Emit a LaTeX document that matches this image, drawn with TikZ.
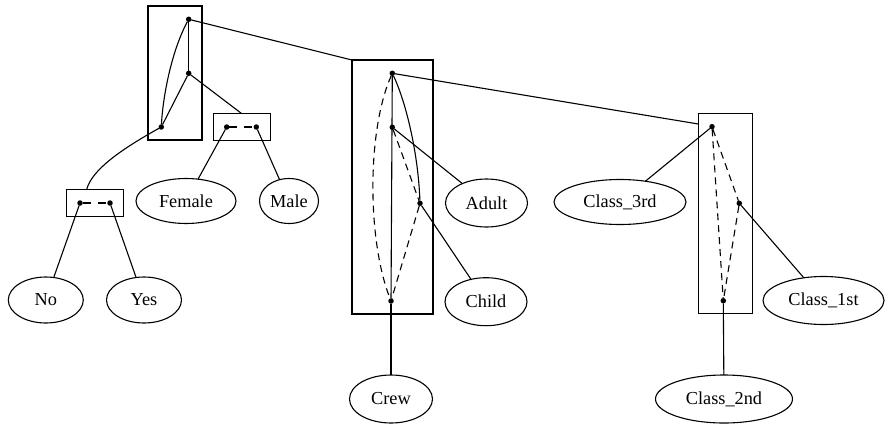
\documentclass[tikz,border=0pt]{standalone}
\usepackage{fontspec}
\setmainfont{Liberation Serif}
\usetikzlibrary{shapes.geometric}
\begin{document}
\begin{tikzpicture}[x=1pt,y=-1pt,
  every node/.style={inner sep=0pt, outer sep=0pt},
  dotn/.style={circle, fill=black, minimum size=5.5pt},
  boxn/.style={draw, rectangle, line width=1.1pt},
  elln/.style={draw, ellipse, line width=1.1pt, font=\fontsize{18.3}{21}\selectfont},
  edgeln/.style={line width=1.1pt},
  dedge/.style={line width=1.1pt, dash pattern=on 7pt off 5pt},
  sdedge/.style={line width=1.1pt, dash pattern=on 8pt off 7pt}]
\useasboundingbox (0,0) rectangle (886,426);

% boxes
\node[boxn, minimum width=54pt, minimum height=134pt] (b1) at (175,73) {};
\node[boxn, minimum width=81pt, minimum height=254pt] (b2) at (392.5,187) {};
\node[boxn, minimum width=57pt, minimum height=26.6pt] (b3) at (241.8,127) {};
\node[boxn, minimum width=57.3pt, minimum height=26.7pt] (b4) at (94.7,202.7) {};
\node[boxn, minimum width=54pt, minimum height=200pt] (b5) at (725.3,213.3) {};

% dots
\node[dotn] (d1a) at (188.7,19.3) {};
\node[dotn] (d1b) at (188.7,73.3) {};
\node[dotn] (d1c) at (161.3,127) {};
\node[dotn] (d3a) at (226.7,127) {};
\node[dotn] (d3b) at (256.3,127) {};
\node[dotn] (d4a) at (80,203) {};
\node[dotn] (d4b) at (110,203) {};
\node[dotn] (d2a) at (392.3,73.3) {};
\node[dotn] (d2b) at (392.3,127.3) {};
\node[dotn] (d2c) at (420,203.3) {};
\node[dotn] (d2d) at (391,301) {};
\node[dotn] (d5a) at (712,126.7) {};
\node[dotn] (d5b) at (739.3,203.3) {};
\node[dotn] (d5c) at (723.3,300.7) {};

% ellipses
\node[elln, minimum width=100pt, minimum height=45pt] (female) at (186,201) {Female};
\node[elln, minimum width=59pt, minimum height=45pt] (male) at (289,201) {Male};
\node[elln, minimum width=75pt, minimum height=46pt] (no) at (45.8,300) {No};
\node[elln, minimum width=75pt, minimum height=46pt] (yes) at (144,300) {Yes};
\node[elln, minimum width=82pt, minimum height=48pt] (adult) at (486.5,203) {Adult};
\node[elln, minimum width=82pt, minimum height=48pt] (child) at (486,301.7) {Child};
\node[elln, minimum width=83pt, minimum height=48pt] (crew) at (391,399) {Crew};
\node[elln, minimum width=132pt, minimum height=45pt] (c3) at (620,202) {Class\_3rd};
\node[elln, minimum width=121pt, minimum height=48pt] (c1) at (823.5,300.5) {Class\_1st};
\node[elln, minimum width=137pt, minimum height=48pt] (c2) at (724,399) {Class\_2nd};

% box 1 internals
\draw[edgeln] (d1a) -- (d1b);
\draw[edgeln] (d1b) -- (d1c);
\draw[edgeln] (d1a) .. controls (172,50) and (163,95) .. (d1c);
\draw[edgeln] (d1a) -- (b2.north west);
\draw[edgeln] (d1b) -- (b3.north);
\draw[edgeln] (d1c) .. controls (120,150) and (92,170) .. ([xshift=-8pt]b4.north);

% box 3 / box 4
\draw[sdedge] (d3a) -- (d3b);
\draw[edgeln] (d3a) -- (female);
\draw[edgeln] (d3b) -- (male);
\draw[sdedge] (d4a) -- (d4b);
\draw[edgeln] (d4a) -- (no);
\draw[edgeln] (d4b) -- (yes);

% box 2 internals
\draw[edgeln] (d2a) -- (d2d);
\draw[edgeln] (d2a) .. controls (405,100) and (418,150) .. (d2c);
\draw[dedge] (d2a) .. controls (367,130) and (367,240) .. (d2d);
\draw[dedge] (d2b) -- (d2c);
\draw[dedge] (d2c) -- (d2d);
\draw[edgeln] (d2b) -- (adult);
\draw[edgeln] (d2c) -- (child);
\draw[edgeln] (d2d) -- (crew);
\draw[edgeln] (d2a) -- ([yshift=-10.7pt]b5.north west);

% box 5 internals
\draw[dedge] (d5a) -- (d5c);
\draw[dedge] (d5a) -- (d5b);
\draw[dedge] (d5b) -- (d5c);
\draw[edgeln] (d5a) -- (c3);
\draw[edgeln] (d5b) -- (c1);
\draw[edgeln] (d5c) -- (c2);
\end{tikzpicture}
\end{document}
